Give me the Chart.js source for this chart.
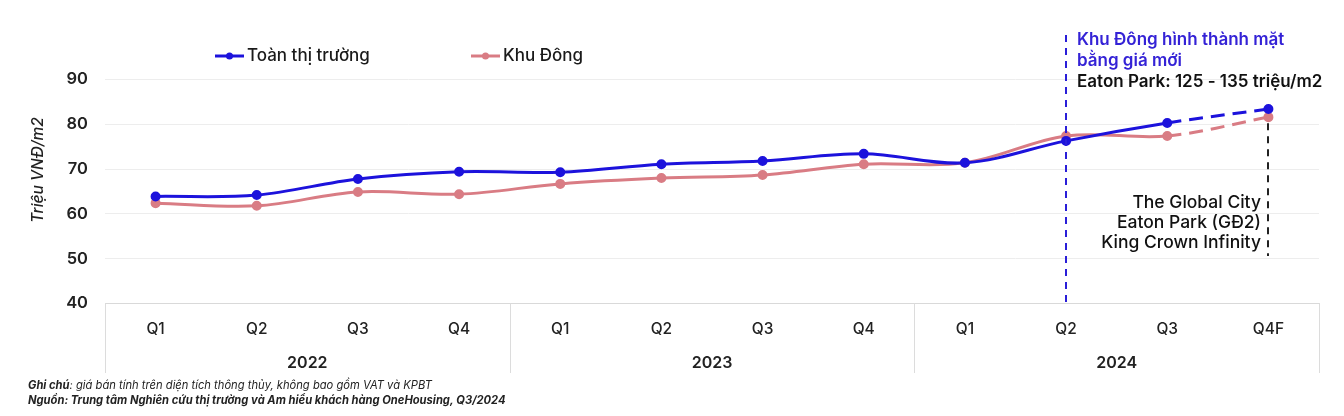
<!DOCTYPE html>
<html><head><meta charset="utf-8">
<script src="https://cdn.jsdelivr.net/npm/chart.js@4.4.0/dist/chart.umd.min.js"></script>
<style>html,body{margin:0;padding:0;background:#fff}#wrap{width:1344px;height:416px;position:relative}</style>
</head><body><div id="wrap"><canvas id="c" width="1344" height="416"></canvas></div>
<script>
const quarters = ['Q1','Q2','Q3','Q4','Q1','Q2','Q3','Q4','Q1','Q2','Q3','Q4F'];
const years = ['2022','2023','2024'];
const quartersPerYear = 4;
const toanThiTruong = [63.9,64.2,67.8,69.4,69.3,71.1,71.8,73.4,71.4,76.3,80.3,83.4];
const khuDong = [62.4,61.8,64.9,64.4,66.7,68.0,68.7,71.1,71.4,77.4,77.4,81.6];
const seriesNames = ['Toàn thị trường','Khu Đông'];
const forecastStart = 10;
const markIndex = 9;
const noteIndex = 11;
const noteTop = ['Khu Đông hình thành mặt','bằng giá mới'];
const noteTop2 = 'Eaton Park: 125 - 135 triệu/m2';
const noteRight = ['The Global City','Eaton Park (GĐ2)','King Crown Infinity'];
const yTitle = 'Triệu VNĐ/m2';
const foot1b = 'Ghi chú', foot1 = ': giá bán tính trên diện tích thông thủy, không bao gồm VAT và KPBT';
const foot2 = 'Nguồn: Trung tâm Nghiên cứu thị trường và Am hiểu khách hàng OneHousing, Q3/2024';

const BLUE = '#1c12dc', PINK = '#d97c84', TXTBLUE = '#3422d6';
const FF = 'Inter, "Noto Sans", sans-serif';

const dashSeg = ctx => ctx.p0DataIndex >= forecastStart ? [14, 8] : undefined;

const extras = {
  id: 'extras',
  afterDraw(chart) {
    const {ctx, scales: {x, y}, chartArea} = chart;
    ctx.save();
    ctx.strokeStyle = '#dcdcdc'; ctx.lineWidth = 1;
    const bottom = 373;
    const step = x.getPixelForValue(1) - x.getPixelForValue(0);
    const bounds = [x.getPixelForValue(0) - step / 2];
    for (let g = 0; g < years.length; g++) bounds.push(x.getPixelForValue((g + 1) * quartersPerYear - 1) + step / 2);
    bounds.forEach(b => { ctx.beginPath(); ctx.moveTo(Math.round(b) + 0.5, chartArea.bottom); ctx.lineTo(Math.round(b) + 0.5, bottom); ctx.stroke(); });
    ctx.fillStyle = '#222'; ctx.font = '600 16px ' + FF; ctx.textAlign = 'center'; ctx.textBaseline = 'middle';
    years.forEach((yr, g) => ctx.fillText(yr, (bounds[g] + bounds[g + 1]) / 2, 363));

    ctx.save(); ctx.translate(38, 170); ctx.rotate(-Math.PI / 2);
    ctx.font = 'italic 500 15.5px ' + FF; ctx.fillStyle = '#222'; ctx.fillText(yTitle, 0, 0);
    ctx.restore();

    const leg = [[215, BLUE, seriesNames[0]], [471, PINK, seriesNames[1]]];
    leg.forEach(([lx, col, name]) => {
      ctx.strokeStyle = col; ctx.lineWidth = 3; ctx.beginPath(); ctx.moveTo(lx, 56); ctx.lineTo(lx + 29, 56); ctx.stroke();
      ctx.fillStyle = col; ctx.beginPath(); ctx.arc(lx + 14.5, 56, 3.5, 0, Math.PI * 2); ctx.fill();
      ctx.fillStyle = '#1a1a1a'; ctx.font = '500 17px ' + FF; ctx.textAlign = 'left'; ctx.fillText(name, lx + 32, 56);
    });

    const mx = Math.round(x.getPixelForValue(markIndex));
    ctx.setLineDash([7, 6]); ctx.lineWidth = 2; ctx.strokeStyle = '#2a1ed8';
    ctx.beginPath(); ctx.moveTo(mx, 35); ctx.lineTo(mx, chartArea.bottom); ctx.stroke();
    const nx = Math.round(x.getPixelForValue(noteIndex));
    ctx.strokeStyle = '#222';
    ctx.beginPath(); ctx.moveTo(nx, y.getPixelForValue(khuDong[noteIndex]) + 6); ctx.lineTo(nx, 256); ctx.stroke();
    ctx.setLineDash([]);

    ctx.textAlign = 'left'; ctx.fillStyle = TXTBLUE; ctx.font = '600 17px ' + FF;
    ctx.fillText(noteTop[0], mx + 11, 40);
    ctx.fillText(noteTop[1], mx + 11, 61);
    ctx.fillStyle = '#111'; ctx.font = '600 17px ' + FF;
    ctx.fillText(noteTop2, mx + 11, 82);

    ctx.textAlign = 'right'; ctx.font = '500 17.5px ' + FF; ctx.fillStyle = '#111';
    noteRight.forEach((t, i) => ctx.fillText(t, nx - 7, 203 + i * 20));

    ctx.textAlign = 'left'; ctx.fillStyle = '#222';
    ctx.font = 'italic 700 11.2px ' + FF; ctx.fillText(foot1b, 28, 386);
    const w = ctx.measureText(foot1b).width;
    ctx.font = 'italic 400 11.2px ' + FF; ctx.fillText(foot1, 28 + w, 386);
    ctx.font = 'italic 700 11.2px ' + FF; ctx.fillText(foot2, 28, 401);
    ctx.restore();
  }
};

new Chart(document.getElementById('c'), {
  type: 'line',
  data: {
    labels: quarters,
    datasets: [
      { label: seriesNames[0], data: toanThiTruong, borderColor: BLUE, backgroundColor: BLUE, borderWidth: 3,
        pointRadius: 3.5, pointHoverRadius: 3.5, tension: 0.35, segment: { borderDash: dashSeg } },
      { label: seriesNames[1], data: khuDong, borderColor: PINK, backgroundColor: PINK, borderWidth: 3,
        pointRadius: 3.5, pointHoverRadius: 3.5, tension: 0.35, segment: { borderDash: dashSeg } }
    ]
  },
  options: {
    responsive: false, animation: false, devicePixelRatio: 1,
    layout: { autoPadding: false, padding: { top: 79.5, right: 25, left: 0, bottom: 0 } },
    plugins: { legend: { display: false }, tooltip: { enabled: false } },
    scales: {
      x: {
        offset: true,
        grid: { display: false, drawTicks: false, offset: true },
        border: { display: true, color: '#d9d9d9' },
        ticks: { color: '#222', font: { family: FF, size: 15.5, weight: '500' }, padding: 17, maxRotation: 0 },
        afterFit: s => { s.height = 416 - 303.5; }
      },
      y: {
        min: 40, max: 90,
        grid: { color: c => c.tick.value === 40 ? '#d9d9d9' : '#ededed', drawTicks: false },
        border: { display: false },
        ticks: { stepSize: 10, color: '#222', font: { family: FF, size: 16.5, weight: '600' }, padding: 17 },
        afterFit: s => { s.width = 105; }
      }
    }
  },
  plugins: [extras]
});
</script></body></html>
